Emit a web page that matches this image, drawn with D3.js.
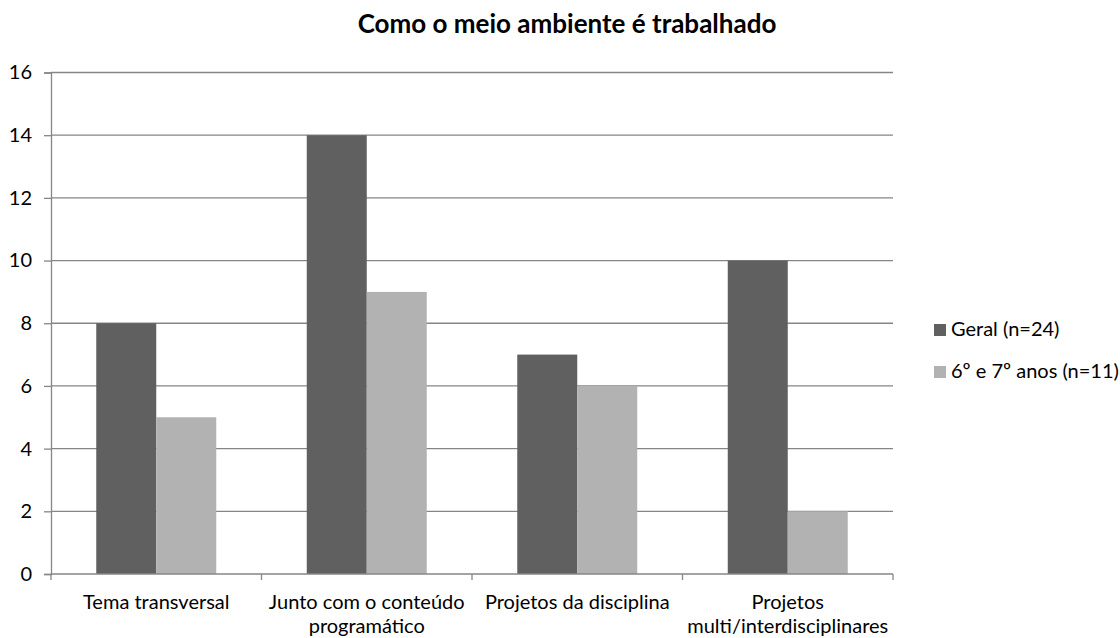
<!DOCTYPE html>
<html>
<head>
<meta charset="utf-8">
<script src="https://cdn.jsdelivr.net/npm/d3@7"></script>
<style>
  body { margin: 0; background: #fff; }
  svg { display: block; font-family: Lato, "Open Sans", sans-serif; }
</style>
</head>
<body>
<svg id="chart" width="1120" height="638"></svg>
<script>
// Categories (with line breaks for the axis labels) and series values
const categories = [
  ["Tema transversal"],
  ["Junto com o conteúdo", "programático"],
  ["Projetos da disciplina"],
  ["Projetos", "multi/interdisciplinares"]
];
const seriesNames = ["Geral (n=24)", "6º e 7º anos (n=11)"];
const geral = [8, 14, 7, 10];
const anos67 = [5, 9, 6, 2];
const yTicks = [0, 2, 4, 6, 8, 10, 12, 14, 16];
const title = "Como o meio ambiente é trabalhado";

const colors = ["#606060", "#b2b2b2"];
const fontSize = 20;
const svg = d3.select("#chart");

const plot = { left: 51, right: 893, top: 72.5, bottom: 574 };
const catIdx = categories.map((d, i) => i);

const x = d3.scaleBand().domain(catIdx).range([plot.left, plot.right]).paddingInner(0).paddingOuter(0);
const xInner = d3.scaleBand().domain([0, 1]).range([0, x.bandwidth() * 0.57]);
const groupOffset = (x.bandwidth() - x.bandwidth() * 0.57) / 2;
const y = d3.scaleLinear().domain([0, 16]).range([plot.bottom, plot.top]);

// Horizontal gridlines
svg.append("g")
  .selectAll("line")
  .data(yTicks.filter(t => t > 0))
  .join("line")
  .attr("x1", plot.left).attr("x2", plot.right)
  .attr("y1", d => y(d)).attr("y2", d => y(d))
  .attr("stroke", "#868686").attr("stroke-width", 1.3);

// Bars
const series = [geral, anos67];
series.forEach((vals, s) => {
  svg.append("g")
    .selectAll("rect")
    .data(vals)
    .join("rect")
    .attr("x", (d, i) => x(i) + groupOffset + xInner(s))
    .attr("y", d => y(d))
    .attr("width", xInner.bandwidth())
    .attr("height", d => y(0) - y(d))
    .attr("fill", colors[s]);
});

// Y axis
const yAxis = svg.append("g")
  .attr("transform", `translate(${plot.left},0)`)
  .call(d3.axisLeft(y).tickValues(yTicks).tickSize(7).tickPadding(12));
yAxis.select(".domain").attr("stroke", "#868686").attr("stroke-width", 1.3);
yAxis.selectAll(".tick line").attr("stroke", "#868686").attr("stroke-width", 1.3);
yAxis.selectAll(".tick text")
  .attr("fill", "#000").attr("font-size", fontSize)
  .style("font-family", "Lato, 'Open Sans', sans-serif");

// X axis: baseline with ticks at band boundaries
const xAxisG = svg.append("g");
xAxisG.append("line")
  .attr("x1", plot.left).attr("x2", plot.right)
  .attr("y1", y(0)).attr("y2", y(0))
  .attr("stroke", "#868686").attr("stroke-width", 1.3);
const boundaries = catIdx.map(i => x(i)).concat([plot.right]);
xAxisG.selectAll("line.tk")
  .data(boundaries)
  .join("line")
  .attr("class", "tk")
  .attr("x1", d => d).attr("x2", d => d)
  .attr("y1", y(0)).attr("y2", y(0) + 6)
  .attr("stroke", "#868686").attr("stroke-width", 1.3);

// Category labels
const labels = svg.append("g")
  .selectAll("text")
  .data(categories)
  .join("text")
  .attr("x", (d, i) => x(i) + x.bandwidth() / 2)
  .attr("y", 609)
  .attr("text-anchor", "middle")
  .attr("font-size", fontSize)
  .attr("fill", "#000");
labels.each(function(lines) {
  const cx = d3.select(this).attr("x");
  d3.select(this).selectAll("tspan")
    .data(lines)
    .join("tspan")
    .attr("x", cx)
    .attr("dy", (d, j) => j === 0 ? 0 : 24)
    .text(d => d);
});

// Title
svg.append("text")
  .attr("x", 567).attr("y", 33)
  .attr("text-anchor", "middle")
  .attr("font-size", 26).attr("font-weight", "bold")
  .attr("fill", "#000")
  .text(title);

// Legend
const legend = svg.append("g");
seriesNames.forEach((name, s) => {
  const base = 336 + s * 42;
  legend.append("rect")
    .attr("x", 934).attr("y", base - 12)
    .attr("width", 12).attr("height", 12)
    .attr("fill", colors[s]);
  legend.append("text")
    .attr("x", 951).attr("y", base)
    .attr("font-size", fontSize).attr("fill", "#000")
    .text(name);
});
</script>
</body>
</html>
